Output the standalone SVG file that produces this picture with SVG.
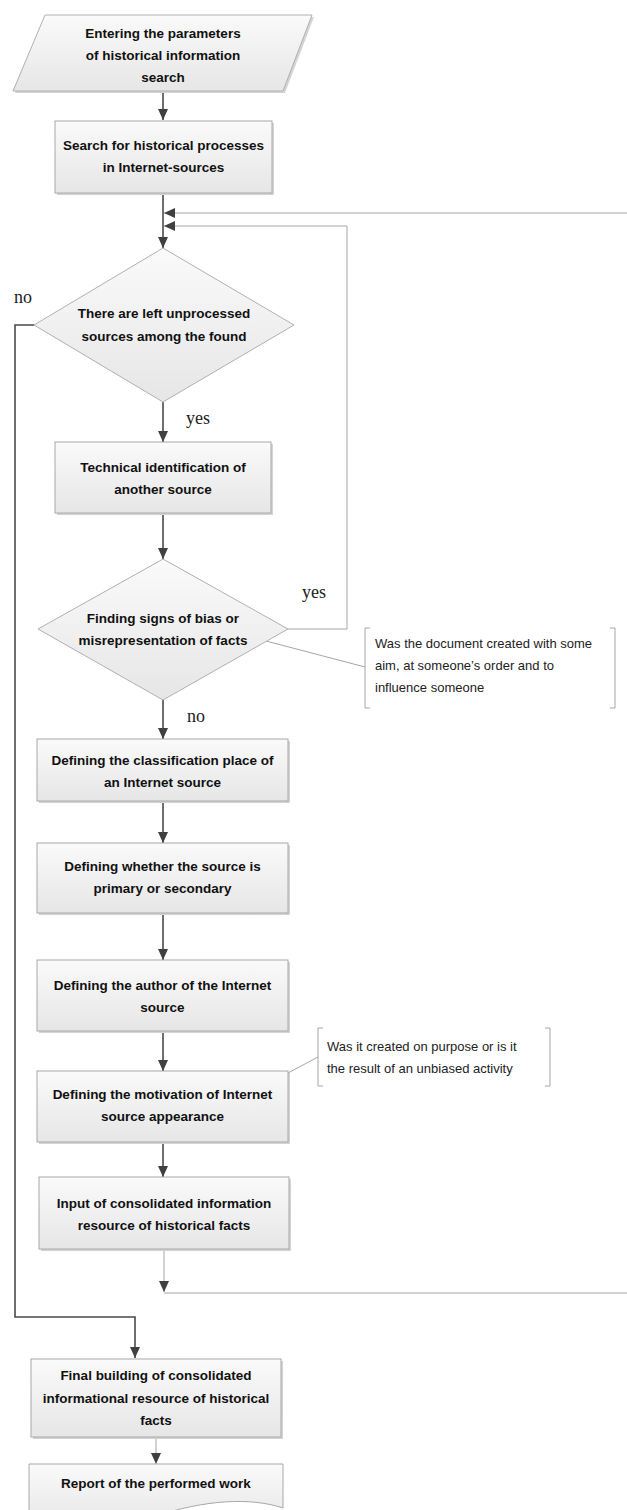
<svg xmlns="http://www.w3.org/2000/svg" width="627" height="1510" viewBox="0 0 627 1510">
<style>
.box{fill:url(#g);stroke:#a8a8a8;stroke-width:1}
.sh{fill:#d4d4d4}
.dia{fill:url(#g);stroke:#b0b0b0;stroke-width:1}
.t{font-family:"Liberation Sans",Arial,sans-serif;font-weight:bold;font-size:13.5px;fill:#111;text-anchor:middle}
.n{font-family:"Liberation Sans",Arial,sans-serif;font-size:13px;fill:#222}
.lab{font-family:"Liberation Serif","Times New Roman",serif;font-size:18px;fill:#222}
.main{fill:none;stroke:#4a4a4a;stroke-width:1.6}
.thin{fill:none;stroke:#a6a6a6;stroke-width:1}
.br{fill:none;stroke:#a6a6a6;stroke-width:1}
</style>
<defs>
<linearGradient id="g" x1="0" y1="0" x2="0" y2="1">
<stop offset="0" stop-color="#fafafa"/>
<stop offset="1" stop-color="#e6e6e6"/>
</linearGradient>
<marker id="ah" markerUnits="userSpaceOnUse" markerWidth="12" markerHeight="10" refX="11" refY="5" orient="auto" viewBox="0 0 12 10">
<path d="M0,0 L11,5 L0,10 z" fill="#404040"/>
</marker>
</defs>

<g id="connectors">
<line class="main" x1="163" y1="91" x2="163" y2="120" marker-end="url(#ah)"/>
<line class="main" x1="163" y1="193" x2="163" y2="248" marker-end="url(#ah)"/>
<line class="thin" x1="627" y1="213" x2="164" y2="213" marker-end="url(#ah)"/>
<polyline class="thin" points="288,629 347,629 347,226 164,226" marker-end="url(#ah)"/>
<line class="main" x1="163" y1="402" x2="163" y2="442" marker-end="url(#ah)"/>
<line class="main" x1="163" y1="513" x2="163" y2="559" marker-end="url(#ah)"/>
<line class="main" x1="163" y1="700" x2="163" y2="739" marker-end="url(#ah)"/>
<line class="main" x1="163" y1="801" x2="163" y2="843" marker-end="url(#ah)"/>
<line class="main" x1="163" y1="913" x2="163" y2="960" marker-end="url(#ah)"/>
<line class="main" x1="163" y1="1031" x2="163" y2="1071" marker-end="url(#ah)"/>
<line class="main" x1="163" y1="1142" x2="163" y2="1177" marker-end="url(#ah)"/>
<line class="thin" x1="164" y1="1249" x2="164" y2="1292" marker-end="url(#ah)"/>
<line class="thin" x1="164" y1="1293" x2="627" y2="1293"/>
<polyline class="main" points="34,325 15,325 15,1317 135,1317 135,1358" marker-end="url(#ah)"/>
<line class="thin" x1="156" y1="1437" x2="156" y2="1464" marker-end="url(#ah)"/>
<line class="thin" x1="266" y1="641" x2="365" y2="667"/>
<line class="thin" x1="288" y1="1073" x2="318" y2="1057"/>
<text class="lab" x="14" y="303">no</text>
<text class="lab" x="186" y="424">yes</text>
<text class="lab" x="302" y="598">yes</text>
<text class="lab" x="187" y="722">no</text>
</g>

<g id="start">
<polygon points="47,17 314,17 285,93 15,93" class="sh"/>
<polygon points="45,15 312,15 283,91 13,91" class="dia"/>
<text class="t" x="163" y="38">Entering the parameters</text>
<text class="t" x="163" y="60">of historical information</text>
<text class="t" x="163" y="82">search</text>
</g>

<g id="search">
<rect x="57" y="123" width="217" height="72" class="sh"/>
<rect x="55" y="121" width="217" height="72" class="box"/>
<text class="t" x="163.5" y="150">Search for historical processes</text>
<text class="t" x="163.5" y="172">in Internet-sources</text>
</g>

<g id="decision1">
<polygon points="163,248 294,325 163,402 34,325" class="dia"/>
<text class="t" x="164" y="318">There are left unprocessed</text>
<text class="t" x="164" y="341">sources among the found</text>
</g>

<g id="technical">
<rect x="57" y="444" width="216" height="71" class="sh"/>
<rect x="55" y="442" width="216" height="71" class="box"/>
<text class="t" x="163" y="472">Technical identification of</text>
<text class="t" x="163" y="494">another source</text>
</g>

<g id="decision2">
<polygon points="163,559 288,629 163,700 38,629" class="dia"/>
<text class="t" x="163" y="623">Finding signs of bias or</text>
<text class="t" x="163" y="645">misrepresentation of facts</text>
</g>

<g id="note1">
<path class="br" d="M370,628 H365 V708 H370 M610,628 H615 V708 H610"/>
<text class="n" x="375" y="648">Was the document created with some</text>
<text class="n" x="375" y="670">aim, at someone’s order and to</text>
<text class="n" x="375" y="692">influence someone</text>
</g>

<g id="classification">
<rect x="39" y="741" width="251" height="62" class="sh"/>
<rect x="37" y="739" width="251" height="62" class="box"/>
<text class="t" x="162.5" y="765">Defining the classification place of</text>
<text class="t" x="162.5" y="787">an Internet source</text>
</g>

<g id="primary">
<rect x="39" y="845" width="251" height="70" class="sh"/>
<rect x="37" y="843" width="251" height="70" class="box"/>
<text class="t" x="162.5" y="871">Defining whether the source is</text>
<text class="t" x="162.5" y="893">primary or secondary</text>
</g>

<g id="author">
<rect x="39" y="962" width="251" height="71" class="sh"/>
<rect x="37" y="960" width="251" height="71" class="box"/>
<text class="t" x="162.5" y="990">Defining the author of the Internet</text>
<text class="t" x="162.5" y="1012">source</text>
</g>

<g id="motivation">
<rect x="39" y="1073" width="251" height="71" class="sh"/>
<rect x="37" y="1071" width="251" height="71" class="box"/>
<text class="t" x="162.5" y="1099">Defining the motivation of Internet</text>
<text class="t" x="162.5" y="1121">source appearance</text>
</g>

<g id="note2">
<path class="br" d="M323,1028 H318 V1086 H323 M545,1028 H550 V1086 H545"/>
<text class="n" x="327" y="1051">Was it created on purpose or is it</text>
<text class="n" x="327" y="1073">the result of an unbiased activity</text>
</g>

<g id="input">
<rect x="41" y="1179" width="250" height="72" class="sh"/>
<rect x="39" y="1177" width="250" height="72" class="box"/>
<text class="t" x="164" y="1208">Input of consolidated information</text>
<text class="t" x="164" y="1230">resource of historical facts</text>
</g>

<g id="final">
<rect x="33" y="1361" width="250" height="78" class="sh"/>
<rect x="31" y="1359" width="250" height="78" class="box"/>
<text class="t" x="156" y="1380">Final building of consolidated</text>
<text class="t" x="156" y="1403">informational resource of historical</text>
<text class="t" x="156" y="1425">facts</text>
</g>

<g id="report">
<path d="M29,1464 H283 V1508 C250,1497 205,1500 156,1516 C110,1530 60,1530 29,1522 Z" class="box"/>
<text class="t" x="156" y="1488">Report of the performed work</text>
</g>
</svg>
